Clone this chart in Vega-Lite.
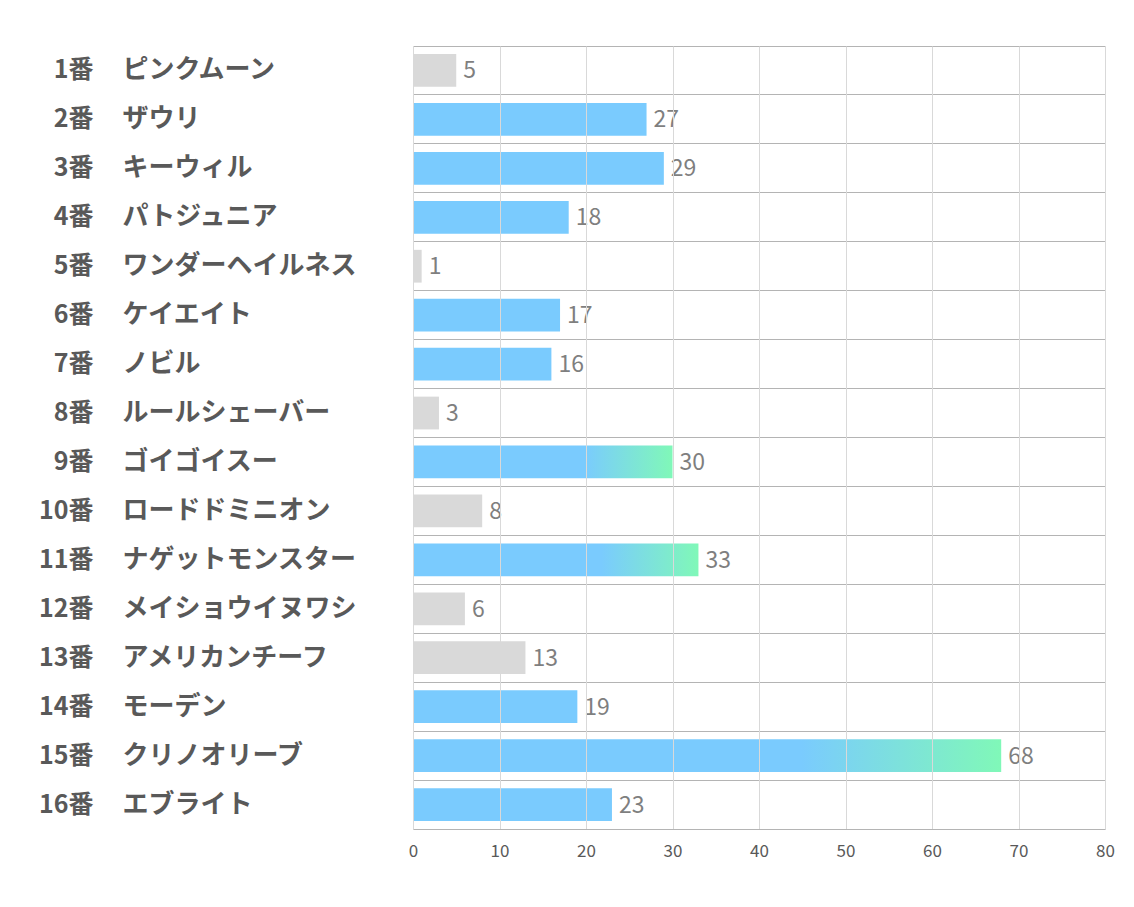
{
  "$schema": "https://vega.github.io/schema/vega-lite/v6.json",
  "width": 692,
  "height": 783,
  "autosize": "none",
  "padding": {"left": 413, "top": 46, "right": 29, "bottom": 78},
  "background": "white",
  "config": {"view": {"stroke": null}, "font": "Noto Sans CJK JP"},
  "data": {
    "values": [
      {"label": "1番　ピンクムーン", "value": 5},
      {"label": "2番　ザウリ", "value": 27},
      {"label": "3番　キーウィル", "value": 29},
      {"label": "4番　パトジュニア", "value": 18},
      {"label": "5番　ワンダーヘイルネス", "value": 1},
      {"label": "6番　ケイエイト", "value": 17},
      {"label": "7番　ノビル", "value": 16},
      {"label": "8番　ルールシェーバー", "value": 3},
      {"label": "9番　ゴイゴイスー", "value": 30},
      {"label": "10番　ロードドミニオン", "value": 8},
      {"label": "11番　ナゲットモンスター", "value": 33},
      {"label": "12番　メイショウイヌワシ", "value": 6},
      {"label": "13番　アメリカンチーフ", "value": 13},
      {"label": "14番　モーデン", "value": 19},
      {"label": "15番　クリノオリーブ", "value": 68},
      {"label": "16番　エブライト", "value": 23}
    ]
  },
  "encoding": {
    "x": {
      "field": "value",
      "type": "quantitative",
      "scale": {"domain": [0, 80], "nice": false},
      "axis": {
        "title": null,
        "tickCount": 8,
        "grid": true,
        "gridColor": "#d9d9d9",
        "ticks": false,
        "domainColor": "#b4b4b4",
        "labelFontSize": 17,
        "labelColor": "#595959",
        "labelPadding": 14,
        "labelFlush": false,
        "zindex": 1
      }
    }
  },
  "layer": [
    {
      "mark": {"type": "bar", "height": {"band": 0.67}},
      "encoding": {
        "y": {
          "field": "label",
          "type": "nominal",
          "sort": null,
          "scale": {"paddingInner": 0, "paddingOuter": 0},
          "axis": {
            "orient": "left",
            "title": null,
            "domain": false,
            "ticks": false,
            "grid": false,
            "labelExpr": "split(datum.label, '　')[0]",
            "labelAlign": "right",
            "labelPadding": 320,
            "labelFontSize": 25,
            "labelFontWeight": "bold",
            "labelColor": "#595959",
            "labelLimit": 400
          }
        },
        "color": {
          "condition": [
            {
              "test": "datum.value >= 30",
              "value": {
                "gradient": "linear",
                "x1": 0, "y1": 0, "x2": 1, "y2": 0,
                "stops": [
                  {"offset": 0, "color": "#7acbfe"},
                  {"offset": 0.66, "color": "#7acbfe"},
                  {"offset": 1, "color": "#80f8b8"}
                ]
              }
            },
            {"test": "datum.value >= 15", "value": "#7acbfe"}
          ],
          "value": "#d9d9d9"
        }
      }
    },
    {
      "mark": {"type": "text", "align": "left", "baseline": "middle", "dx": 7, "dy": 1, "fontSize": 23, "color": "#7f7f7f"},
      "encoding": {
        "y": {
          "field": "label",
          "type": "nominal",
          "sort": null,
          "axis": {
            "orient": "left",
            "title": null,
            "domain": false,
            "ticks": false,
            "grid": false,
            "labelExpr": "split(datum.label, '　')[1]",
            "labelAlign": "left",
            "labelPadding": 291,
            "labelFontSize": 26,
            "labelFontWeight": "bold",
            "labelColor": "#595959",
            "labelLimit": 400
          }
        },
        "text": {"field": "value", "type": "quantitative"}
      }
    },
    {
      "mark": {"type": "text", "opacity": 0},
      "encoding": {
        "y": {
          "field": "label",
          "type": "nominal",
          "sort": null,
          "axis": {
            "orient": "left",
            "title": null,
            "domain": false,
            "ticks": false,
            "labels": false,
            "grid": true,
            "bandPosition": 0,
            "gridColor": "#b4b4b4"
          }
        },
        "text": {"value": ""}
      }
    }
  ],
  "resolve": {"axis": {"y": "independent"}}
}
